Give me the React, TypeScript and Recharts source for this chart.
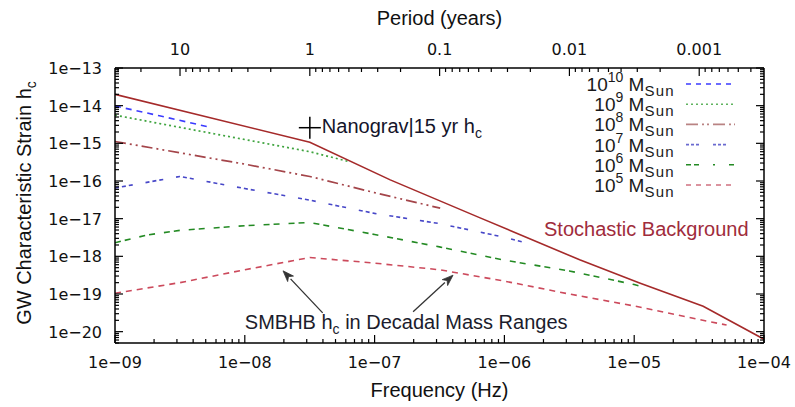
import React from 'react';
import {
  ComposedChart,
  Line,
  XAxis,
  YAxis,
  Scatter,
  ReferenceDot,
  ReferenceLine,
  Legend,
  Label,
} from 'recharts';

// ---------------- data ----------------
const YEAR_SECONDS = 3.15576e7;

// Stochastic background (solid)
const stochFreq = [1e-9, 3.17e-8, 1.32e-7, 6.5e-7, 3.8e-6, 1.1e-5, 3.4e-5, 1e-4];
const stochStrain = [2.0e-14, 1.07e-15, 1.07e-16, 1.05e-17, 8.1e-19, 1.95e-19, 4.7e-20, 6.3e-21];

// SMBHB decadal mass ranges
const m10Freq = [1e-9, 2.2e-9, 5.2e-9];
const m10Strain = [9.8e-15, 5.4e-15, 2.75e-15];

const m9Freq = [1e-9, 1e-8, 3.17e-8, 6.5e-8];
const m9Strain = [5.6e-15, 1.26e-15, 6.0e-16, 3.2e-16];

const m8Freq = [1e-9, 3.16e-9, 1e-8, 3.17e-8, 1e-7, 3.2e-7];
const m8Strain = [1.12e-15, 5.6e-16, 2.8e-16, 1.32e-16, 4.9e-17, 1.9e-17];

const m7Freq = [1e-9, 3.16e-9, 1e-8, 3.17e-8, 1e-7, 3.16e-7, 1e-6, 1.36e-6];
const m7Strain = [6.5e-17, 1.32e-16, 6.3e-17, 3.1e-17, 1.38e-17, 7.4e-18, 3.2e-18, 2.45e-18];

const m6Freq = [1e-9, 1.78e-9, 3.16e-9, 1e-8, 3.17e-8, 1e-7, 3.16e-7, 1e-6, 3.16e-6, 1e-5, 1.14e-5];
const m6Strain = [2.3e-18, 3.7e-18, 4.9e-18, 6.5e-18, 7.9e-18, 3.8e-18, 1.78e-18, 7.9e-19, 4.1e-19, 1.78e-19, 1.58e-19];

const m5Freq = [1e-9, 3.16e-9, 1e-8, 3.17e-8, 1e-7, 3.16e-7, 1e-6, 3.16e-6, 1e-5, 3.16e-5, 5.15e-5];
const m5Strain = [1.05e-19, 2.0e-19, 4.4e-19, 9.3e-19, 6.6e-19, 4.4e-19, 2.2e-19, 1.0e-19, 4.8e-20, 2.1e-20, 1.5e-20];

// NANOGrav 15 yr point
const nanogravFreq = [3.17e-8];
const nanogravStrain = [2.6e-15];

// annotation anchors (frequency, strain)
const stochLabelAt = [2.02e-6, 3.5e-18];
const smbhbLabelAt = [1.0e-8, 1.17e-20];
const arrow1 = [[3.98e-8, 3.16e-20], [1.97e-8, 4.12e-19]];
const arrow2 = [[1.98e-7, 3.39e-20], [4.02e-7, 3.16e-19]];

// axis ticks / labels
const xMajorTicks = [1e-9, 1e-8, 1e-7, 1e-6, 1e-5, 1e-4];
const xMajorLabels = ['1e\u221209', '1e\u221208', '1e\u221207', '1e\u221206', '1e\u221205', '1e\u221204'];
const yMajorTicks = [1e-20, 1e-19, 1e-18, 1e-17, 1e-16, 1e-15, 1e-14, 1e-13];
const yMajorLabels = ['1e\u221220', '1e\u221219', '1e\u221218', '1e\u221217', '1e\u221216', '1e\u221215', '1e\u221214', '1e\u221213'];
const periodMajors = [10, 1, 0.1, 0.01, 0.001];
const periodLabels = ['10', '1', '0.1', '0.01', '0.001'];
const legendExponents = ['10', '9', '8', '7', '6', '5'];

// ---------------- layout / style ----------------
const W = 795;
const H = 407;
const PLOT = { left: 115, top: 68, right: 764, bottom: 343 };
const X_DOMAIN: [number, number] = [1e-9, 1e-4];
const Y_DOMAIN: [number, number] = [5e-21, 1e-13];
const TICK_FONT = '"DejaVu Sans", sans-serif';
const TEXT_FONT = '"Liberation Sans", Arial, Helvetica, sans-serif';

const toPoints = (f: number[], h: number[]) => f.map((x, i) => ({ f: x, h: h[i] }));

const massSeries = [
  { exp: '10', data: toPoints(m10Freq, m10Strain), color: '#3b3bff', dash: '6 5', width: 1.6 },
  { exp: '9', data: toPoints(m9Freq, m9Strain), color: '#3fa43f', dash: '2 3', width: 1.7 },
  { exp: '8', data: toPoints(m8Freq, m8Strain), color: '#a4454a', dash: '11 4 2 4 2 4', width: 1.7 },
  { exp: '7', data: toPoints(m7Freq, m7Strain), color: '#4747c8', dash: '4 3 4 3 4 13', width: 1.6 },
  { exp: '6', data: toPoints(m6Freq, m6Strain), color: '#238a23', dash: '6 4 6 9', width: 1.6 },
  { exp: '5', data: toPoints(m5Freq, m5Strain), color: '#cc4a5c', dash: '6 5', width: 1.6 },
];
const legendColors = ['#3b3bff', '#5fb35f', '#b98383', '#6a6ad0', '#238a23', '#d07080'];
const legendDash = ['5 5', '2 3', '12 4 2 3 2 4', '3 2 3 2 3 14', '5 3 5 14 2 14', '5 5'];

const stochData = toPoints(stochFreq, stochStrain);
const nanogravData = toPoints(nanogravFreq, nanogravStrain);

// tick generation
const decadeTicks = (lo: number, hi: number) => {
  const out: number[] = [];
  for (let k = -22; k <= -3; k++) {
    for (let m = 1; m <= 9; m++) {
      const v = m * Math.pow(10, k);
      if (v >= lo * 0.9999 && v <= hi * 1.0001) out.push(v);
    }
  }
  return out;
};
const xTicks = decadeTicks(X_DOMAIN[0], X_DOMAIN[1]);
const yTicks = decadeTicks(Y_DOMAIN[0], Y_DOMAIN[1]);
const topTicks: number[] = (() => {
  const out: number[] = [];
  for (let d = -4; d <= 1; d++) {
    for (let m = 1; m <= 9; m++) {
      const p = m * Math.pow(10, d);
      const f = 1 / (p * YEAR_SECONDS);
      if (f >= X_DOMAIN[0] && f <= X_DOMAIN[1]) out.push(f);
    }
  }
  return out.sort((a, b) => a - b);
})();

const majorIndex = (v: number, majors: number[]) =>
  majors.findIndex((m) => Math.abs(Math.log10(v) - Math.log10(m)) < 1e-6);

const MAJOR = 8;
const MINOR = 4;

const BottomTick = (p: any) => {
  const v = p.payload.value;
  const i = majorIndex(v, xMajorTicks);
  const len = i >= 0 ? MAJOR : MINOR;
  return (
    <g>
      <line x1={p.x} y1={p.y} x2={p.x} y2={p.y - len} stroke="#000" strokeWidth={1.2} />
      {i >= 0 && (
        <text x={p.x} y={p.y + 25} textAnchor="middle" fontFamily={TICK_FONT} fontSize={16} fill="#111">
          {xMajorLabels[i]}
        </text>
      )}
    </g>
  );
};

const TopTick = (p: any) => {
  const v = p.payload.value;
  const period = 1 / (v * YEAR_SECONDS);
  const i = majorIndex(period, periodMajors);
  const len = i >= 0 ? MAJOR : MINOR;
  return (
    <g>
      <line x1={p.x} y1={p.y} x2={p.x} y2={p.y + len} stroke="#000" strokeWidth={1.2} />
      {i >= 0 && (
        <text x={p.x} y={p.y - 13} textAnchor="middle" fontFamily={TICK_FONT} fontSize={16} fill="#111">
          {periodLabels[i]}
        </text>
      )}
    </g>
  );
};

const LeftTick = (p: any) => {
  const v = p.payload.value;
  const i = majorIndex(v, yMajorTicks);
  const len = i >= 0 ? MAJOR : MINOR;
  return (
    <g>
      <line x1={p.x} y1={p.y} x2={p.x + len} y2={p.y} stroke="#000" strokeWidth={1.2} />
      {i >= 0 && (
        <text x={p.x - 13} y={p.y + 6} textAnchor="end" fontFamily={TICK_FONT} fontSize={16} fill="#111">
          {yMajorLabels[i]}
        </text>
      )}
    </g>
  );
};

const RightTick = (p: any) => {
  const v = p.payload.value;
  const i = majorIndex(v, yMajorTicks);
  const len = i >= 0 ? MAJOR : MINOR;
  return <line x1={p.x} y1={p.y} x2={p.x - len} y2={p.y} stroke="#000" strokeWidth={1.2} />;
};

const cx = (PLOT.left + PLOT.right) / 2;

const BottomTitle = () => (
  <text x={cx} y={397} textAnchor="middle" fontFamily={TEXT_FONT} fontSize={20} fill="#111">
    Frequency (Hz)
  </text>
);
const TopTitle = () => (
  <text x={cx} y={25} textAnchor="middle" fontFamily={TEXT_FONT} fontSize={20} fill="#111">
    Period (years)
  </text>
);
const LeftTitle = () => (
  <text
    transform={`translate(31, 203) rotate(-90)`}
    x={0}
    y={0}
    textAnchor="middle"
    fontFamily={TEXT_FONT}
    fontSize={20}
    fill="#111"
  >
    GW Characteristic Strain h
    <tspan dy={5} fontSize={14}>c</tspan>
  </text>
);

const LegendBox = () => {
  const rows = legendExponents.map((e, i) => {
    const lineY = 16 + 20.2 * i;
    const base = lineY + 7;
    return (
      <g key={e}>
        <text x={115} y={base} textAnchor="end" fontFamily={TEXT_FONT} fontSize={19} fill="#1a1a1a">
          10
          <tspan dy={-9} fontSize={14}>{e}</tspan>
          <tspan dy={9}> M</tspan>
          <tspan dy={5} fontSize={15} letterSpacing={1.3}>Sun</tspan>
        </text>
        <line
          x1={126}
          y1={lineY}
          x2={175}
          y2={lineY}
          stroke={legendColors[i]}
          strokeWidth={1.6}
          strokeDasharray={legendDash[i]}
        />
      </g>
    );
  });
  return (
    <svg width={200} height={132} style={{ overflow: 'visible', display: 'block' }}>
      {rows}
    </svg>
  );
};

const Arrow = (p: any) => {
  const { x1, y1, x2, y2 } = p;
  const ang = Math.atan2(y2 - y1, x2 - x1);
  const L = 11;
  const w = 4;
  const bx = x2 - L * Math.cos(ang);
  const by = y2 - L * Math.sin(ang);
  const nx = -Math.sin(ang) * w;
  const ny = Math.cos(ang) * w;
  return (
    <g>
      <line x1={x1} y1={y1} x2={bx} y2={by} stroke="#333" strokeWidth={1.3} />
      <path d={`M${x2},${y2} L${bx + nx},${by + ny} L${bx + 3 * Math.cos(ang)},${by + 3 * Math.sin(ang)} L${bx - nx},${by - ny} Z`} fill="#333" stroke="#333" strokeWidth={0.8} />
    </g>
  );
};

const NanogravShape = (p: any) => {
  const { cx: x, cy: y } = p;
  return (
    <g>
      <line x1={x - 11} y1={y} x2={x + 11} y2={y} stroke="#000" strokeWidth={1.5} />
      <line x1={x} y1={y - 11} x2={x} y2={y + 11} stroke="#000" strokeWidth={1.5} />
      <text x={x + 12} y={y + 5.5} fontFamily={TEXT_FONT} fontSize={20} fill="#14142a">
        Nanograv|15 yr h
        <tspan dy={5} fontSize={14}>c</tspan>
      </text>
    </g>
  );
};

export default function App() {
  return (
    <div style={{ position: 'absolute', left: 0, top: 0, width: W, height: H, background: '#fff' }}>
      <ComposedChart width={W} height={H} margin={{ top: 0, right: 0, bottom: 0, left: 0 }}>
        <XAxis
          xAxisId="bottom"
          orientation="bottom"
          type="number"
          dataKey="f"
          scale="log"
          domain={X_DOMAIN}
          allowDataOverflow
          ticks={xTicks}
          interval={0}
          tickSize={0}
          tickMargin={0}
          tickLine={false}
          tick={BottomTick}
          height={H - PLOT.bottom}
          axisLine={{ stroke: '#000', strokeWidth: 1.5 }}
          label={<Label content={BottomTitle} />}
        />
        <XAxis
          xAxisId="top"
          orientation="top"
          type="number"
          dataKey="f"
          scale="log"
          domain={X_DOMAIN}
          allowDataOverflow
          ticks={topTicks}
          interval={0}
          tickSize={0}
          tickMargin={0}
          tickLine={false}
          tick={TopTick}
          height={PLOT.top}
          axisLine={{ stroke: '#000', strokeWidth: 1.5 }}
          label={<Label content={TopTitle} />}
        />
        <YAxis
          yAxisId="left"
          orientation="left"
          type="number"
          dataKey="h"
          scale="log"
          domain={Y_DOMAIN}
          allowDataOverflow
          ticks={yTicks}
          interval={0}
          tickSize={0}
          tickMargin={0}
          tickLine={false}
          tick={LeftTick}
          width={PLOT.left}
          axisLine={{ stroke: '#000', strokeWidth: 1.5 }}
          label={<Label content={LeftTitle} />}
        />
        <YAxis
          yAxisId="right"
          orientation="right"
          type="number"
          dataKey="h"
          scale="log"
          domain={Y_DOMAIN}
          allowDataOverflow
          ticks={yTicks}
          interval={0}
          tickSize={0}
          tickMargin={0}
          tickLine={false}
          tick={RightTick}
          width={W - PLOT.right}
          axisLine={{ stroke: '#000', strokeWidth: 1.5 }}
        />
        <Legend
          layout="vertical"
          align="center"
          verticalAlign="middle"
          content={LegendBox}
          wrapperStyle={{ position: 'absolute', left: 560, top: 68, width: 200, height: 132, margin: 0, padding: 0 }}
        />
        {massSeries.map((s) => (
          <Line
            key={s.exp}
            xAxisId="bottom"
            yAxisId="left"
            data={s.data}
            dataKey="h"
            name={`1e${s.exp}`}
            type="linear"
            stroke={s.color}
            strokeWidth={s.width}
            strokeDasharray={s.dash}
            dot={false}
            activeDot={false}
            isAnimationActive={false}
            legendType="none"
          />
        ))}
        <Line
          xAxisId="bottom"
          yAxisId="left"
          data={stochData}
          dataKey="h"
          name="Stochastic"
          type="linear"
          stroke="#a52a2a"
          strokeWidth={1.6}
          dot={false}
          activeDot={false}
          isAnimationActive={false}
          legendType="none"
        />
        <Scatter
          xAxisId="top"
          yAxisId="right"
          data={nanogravData}
          dataKey="h"
          shape={NanogravShape}
          isAnimationActive={false}
          legendType="none"
        />
        <ReferenceLine
          xAxisId="bottom"
          yAxisId="left"
          segment={[{ x: arrow1[0][0], y: arrow1[0][1] }, { x: arrow1[1][0], y: arrow1[1][1] }]}
          shape={Arrow}
          ifOverflow="visible"
        />
        <ReferenceLine
          xAxisId="bottom"
          yAxisId="left"
          segment={[{ x: arrow2[0][0], y: arrow2[0][1] }, { x: arrow2[1][0], y: arrow2[1][1] }]}
          shape={Arrow}
          ifOverflow="visible"
        />
        <ReferenceDot
          xAxisId="bottom"
          yAxisId="left"
          x={stochLabelAt[0]}
          y={stochLabelAt[1]}
          r={0}
          ifOverflow="visible"
          shape={(p: any) => (
            <text x={p.cx} y={p.cy} fontFamily={TEXT_FONT} fontSize={20} fill="#a02c3c">
              Stochastic Background
            </text>
          )}
        />
        <ReferenceDot
          xAxisId="bottom"
          yAxisId="left"
          x={smbhbLabelAt[0]}
          y={smbhbLabelAt[1]}
          r={0}
          ifOverflow="visible"
          shape={(p: any) => (
            <text x={p.cx} y={p.cy} fontFamily={TEXT_FONT} fontSize={20} fill="#1c1c2c">
              SMBHB h<tspan dy={5} fontSize={14}>c</tspan>
              <tspan dy={-5}> in Decadal Mass Ranges</tspan>
            </text>
          )}
        />
      </ComposedChart>
    </div>
  );
}
